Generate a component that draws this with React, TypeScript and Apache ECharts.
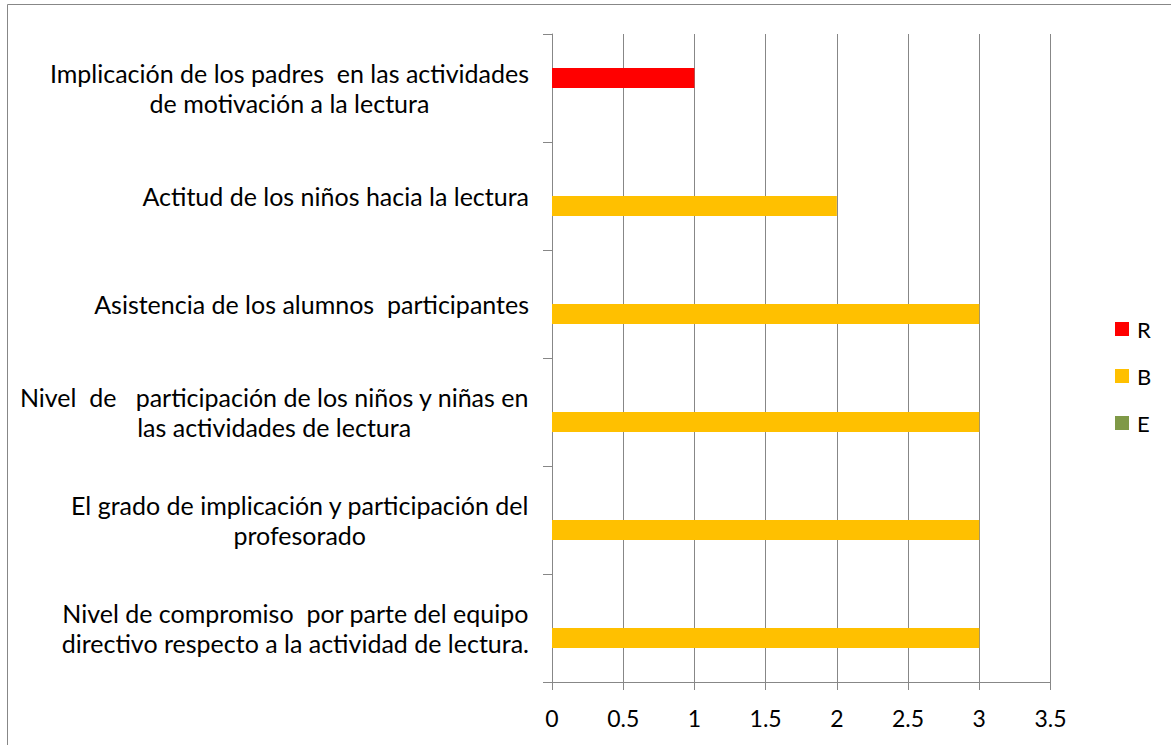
import React, { useEffect, useRef } from "react";
import * as echarts from "echarts";

const categories: string[][] = [
  ["Nivel de compromiso  por parte del equipo", "directivo respecto a la actividad de lectura."],
  ["El grado de implicación y participación del", "profesorado"],
  ["Nivel  de   participación de los niños y niñas en", "las actividades de lectura"],
  ["Asistencia de los alumnos  participantes"],
  ["Actitud de los niños hacia la lectura"],
  ["Implicación de los padres  en las actividades", "de motivación a la lectura"],
];

const seriesNames = ["R", "B", "E"];
const valuesR = [0, 0, 0, 0, 0, 1];
const valuesB = [3, 3, 3, 3, 2, 0];
const valuesE = [0, 0, 0, 0, 0, 0];
const seriesColors = ["#FF0000", "#FFC000", "#7F9947"];

const xMin = 0;
const xMax = 3.5;
const xInterval = 0.5;

const FONT = "Lato";
const GRAY = "#878787";

export default function App() {
  const ref = useRef<HTMLDivElement>(null);
  useEffect(() => {
    if (!ref.current) return;
    const chart = echarts.init(ref.current, null, { renderer: "svg" });
    const catLabels = categories.map((lines) => lines.join("\n"));
    const option: echarts.EChartsOption = {
      animation: false,
      backgroundColor: "#ffffff",
      grid: { left: 552, right: 120.5, top: 34, bottom: 63, containLabel: false },
      graphic: [
        {
          type: "rect",
          silent: true,
          z: -10,
          shape: { x: 7.5, y: 4.5, width: 1300, height: 900 },
          style: { fill: "none", stroke: GRAY, lineWidth: 1 },
        },
      ],
      legend: {
        orient: "vertical",
        left: 1110,
        top: 313,
        itemWidth: 14,
        itemHeight: 14,
        itemGap: 25,
        data: seriesNames,
        icon: "rect",
        textStyle: { fontFamily: FONT, fontSize: 22, color: "#000", lineHeight: 22, padding: [0, 0, 0, 3] },
      },
      xAxis: {
        type: "value",
        min: xMin,
        max: xMax,
        interval: xInterval,
        axisLine: { show: true, lineStyle: { color: GRAY, width: 1 } },
        axisTick: { show: true, length: 8, inside: false, lineStyle: { color: GRAY } },
        splitLine: { show: true, lineStyle: { color: GRAY, width: 1 } },
        axisLabel: { fontFamily: FONT, fontSize: 23, color: "#000", margin: 24 },
      },
      yAxis: {
        type: "category",
        data: catLabels,
        axisLine: { show: true, lineStyle: { color: GRAY, width: 1 } },
        axisTick: { show: true, length: 9, inside: false, lineStyle: { color: GRAY } },
        splitLine: { show: false },
        axisLabel: {
          margin: 23,
          align: "right",
          interval: 0,
          formatter: (v: string) =>
            v
              .split("\n")
              .map((l) => `{c|${l}}`)
              .join("\n"),
          rich: {
            c: { align: "center", fontFamily: FONT, fontSize: 25, color: "#000", lineHeight: 30 },
          },
        },
      },
      series: [
        {
          name: seriesNames[0],
          type: "bar",
          data: valuesR,
          barWidth: 20,
          barGap: "0%",
          itemStyle: { color: seriesColors[0] },
        },
        {
          name: seriesNames[1],
          type: "bar",
          data: valuesB,
          barWidth: 20,
          barGap: "0%",
          stack: "be",
          itemStyle: { color: seriesColors[1] },
        },
        {
          name: seriesNames[2],
          type: "bar",
          data: valuesE,
          barWidth: 20,
          barGap: "0%",
          stack: "be",
          itemStyle: { color: seriesColors[2] },
        },
      ],
    };
    chart.setOption(option);
    return () => chart.dispose();
  }, []);
  return (
    <div
      ref={ref}
      style={{ position: "absolute", left: 0, top: 0, width: 1171, height: 745, fontFamily: "Lato" }}
    />
  );
}
